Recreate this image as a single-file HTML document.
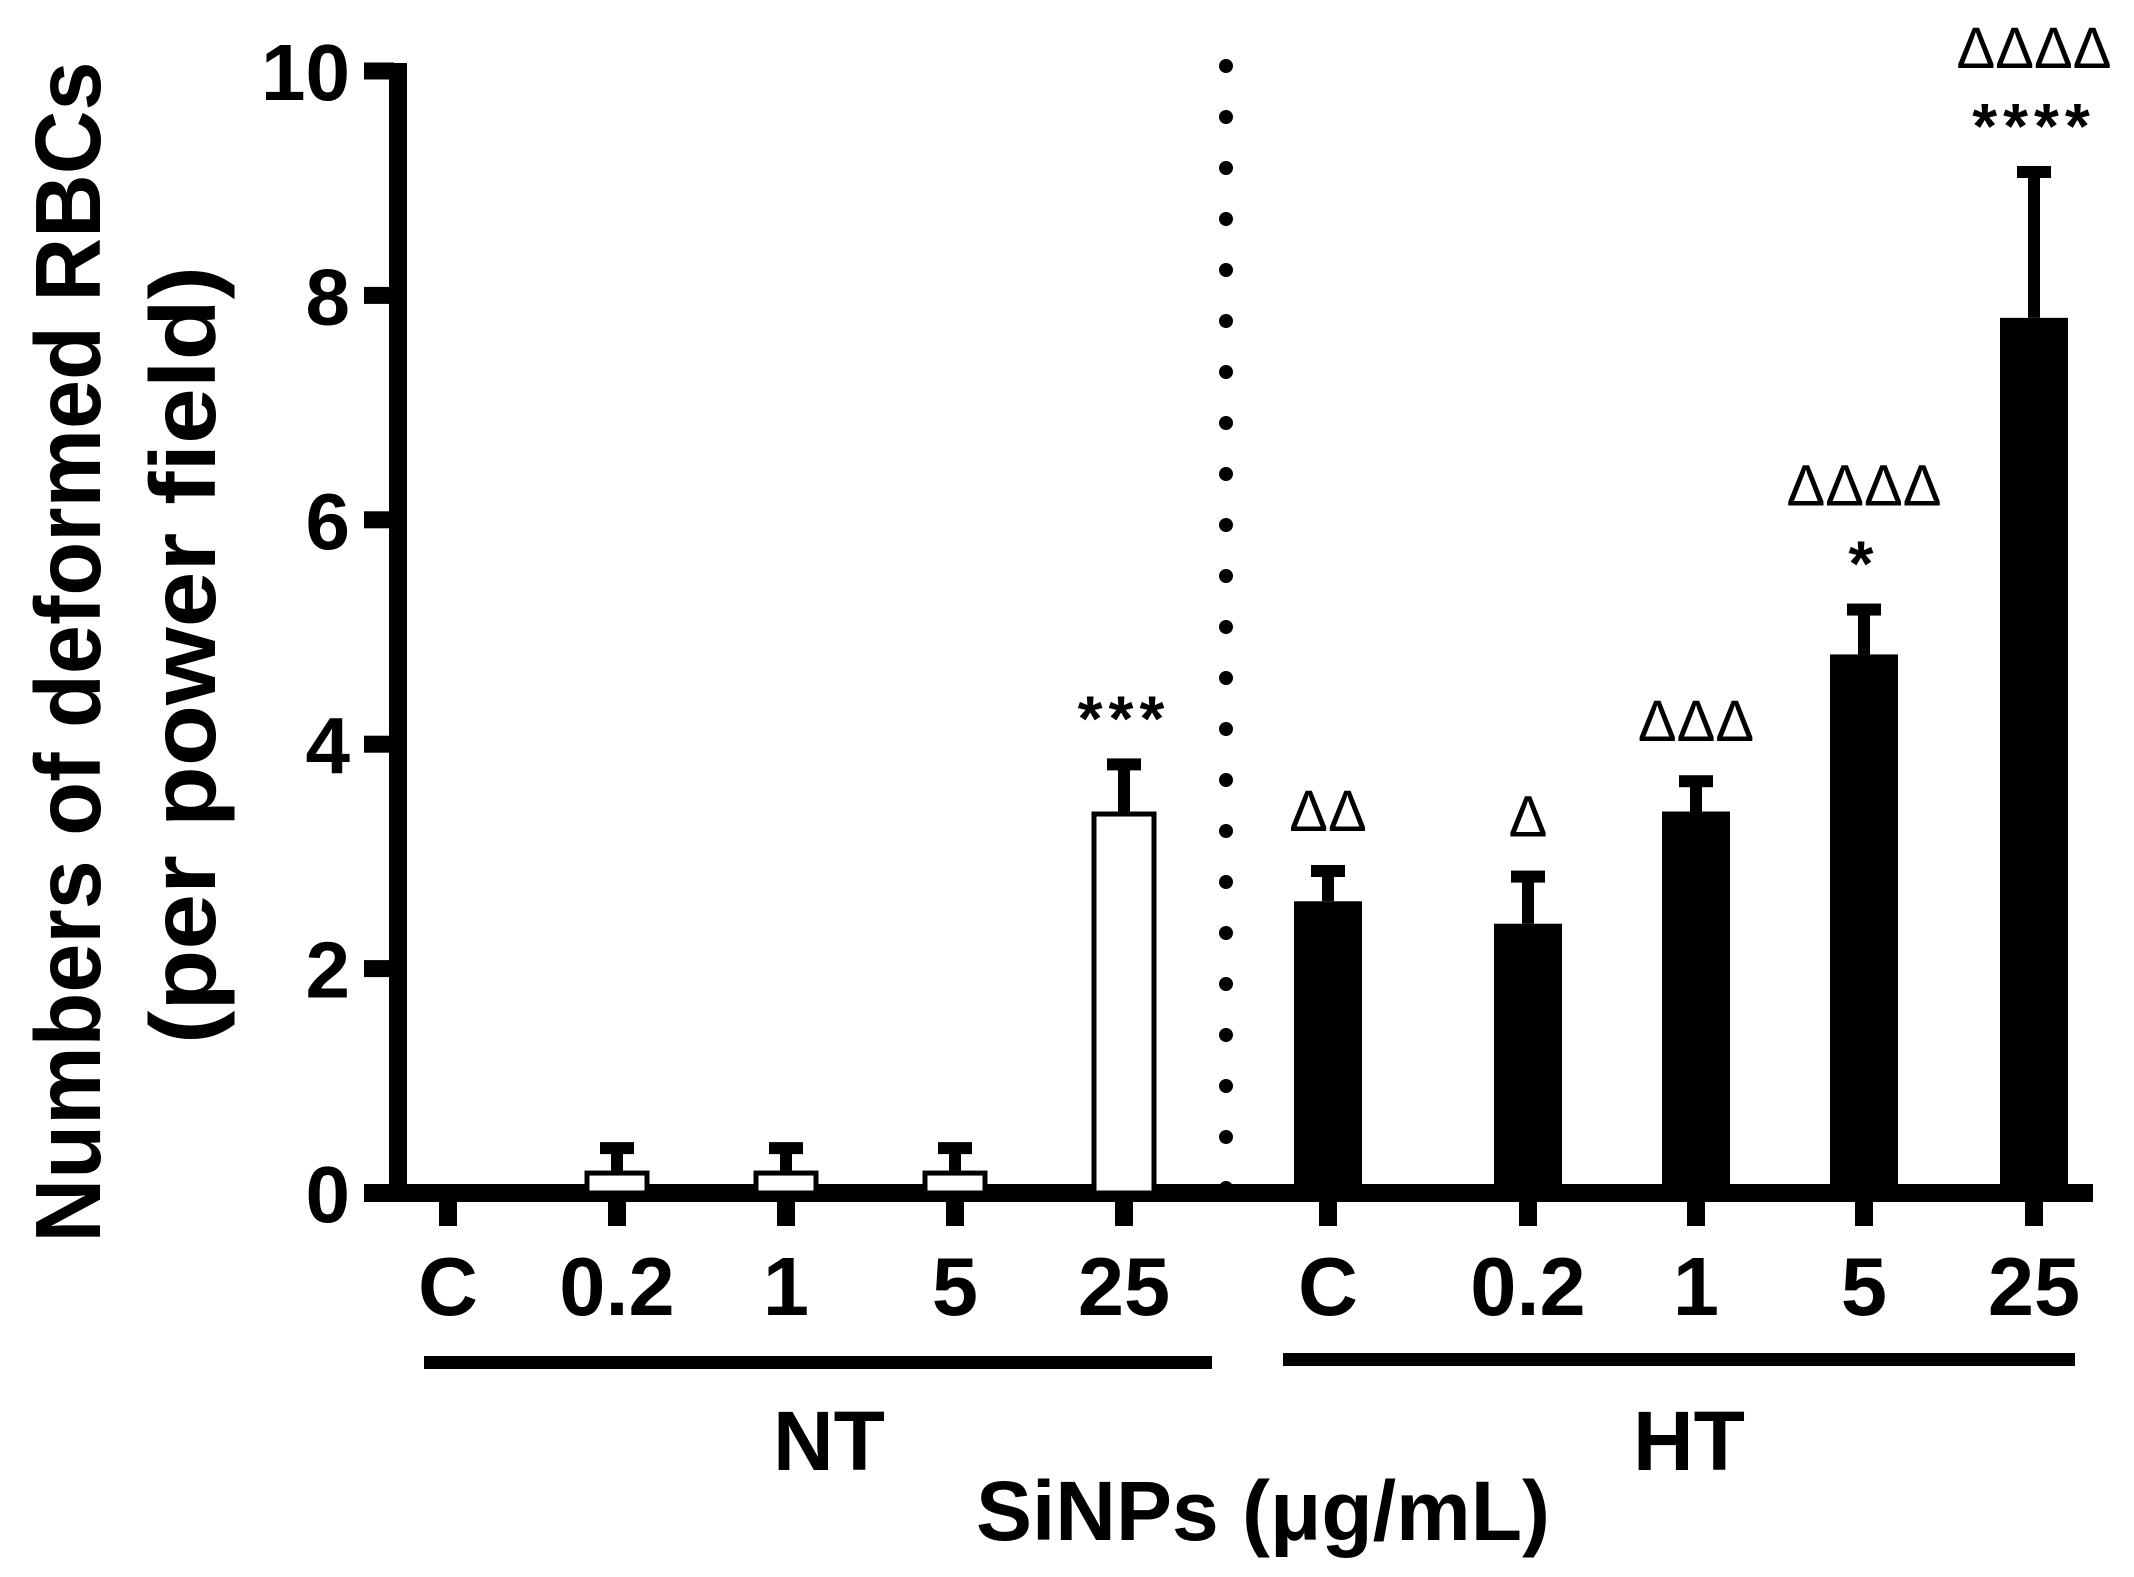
<!DOCTYPE html>
<html><head><meta charset="utf-8"><style>
html,body{margin:0;padding:0;background:#fff}
svg{display:block}
text{font-family:"Liberation Sans",Arial,sans-serif;fill:#000}
</style></head><body>
<svg id="chart" width="2134" height="1577" viewBox="0 0 2134 1577" xmlns="http://www.w3.org/2000/svg">
<g id="axes"></g>
<g id="bars"></g>
<text transform="translate(100,652) rotate(-90)" text-anchor="middle" font-size="93" font-weight="bold" textLength="1181" lengthAdjust="spacingAndGlyphs">Numbers of deformed RBCs</text>
<text transform="translate(215,655) rotate(-90)" text-anchor="middle" font-size="93" font-weight="bold" textLength="778" lengthAdjust="spacingAndGlyphs">(per power field)</text>
<rect x="424" y="1356" width="788" height="13" fill="#000"/>
<rect x="1283" y="1353" width="792" height="13" fill="#000"/>
<text x="829" y="1470" text-anchor="middle" font-size="84" font-weight="bold">NT</text>
<text x="1689" y="1470" text-anchor="middle" font-size="84" font-weight="bold">HT</text>
<text x="1263" y="1540" text-anchor="middle" font-size="84" font-weight="bold">SiNPs (μg/mL)</text>
</svg>
<script>
const categories = ["C","0.2","1","5","25","C","0.2","1","5","25"];
const groups = ["NT","NT","NT","NT","NT","HT","HT","HT","HT","HT"];
const means = [0, 0.2, 0.2, 0.2, 3.4, 2.6, 2.4, 3.4, 4.8, 7.8];
const errors = [0, 0.2, 0.2, 0.2, 0.42, 0.27, 0.42, 0.27, 0.4, 1.3];
const starLabels = ["","","","","***","","","","*","****"];
const deltaLabels = ["","","","","","ΔΔ","Δ","ΔΔΔ","ΔΔΔΔ","ΔΔΔΔ"];
const yTicks = [0,2,4,6,8,10];
const xCenters = [448,617,786,955,1124,1328,1528,1696,1864,2034];

const NS="http://www.w3.org/2000/svg";
const Y0=1193, Y10=71;
function y(v){return Y0-(Y0-Y10)*v/10;}
function mk(tag,attrs,parent){const e=document.createElementNS(NS,tag);for(const k in attrs)e.setAttribute(k,attrs[k]);parent.appendChild(e);return e;}
const ax=document.getElementById('axes'), bg=document.getElementById('bars');

let e=mk('rect',{x:389,y:y(10)-8,width:18,height:Y0-y(10)+17,fill:'#000'},ax);


yTicks.forEach(t=>{
  let tk=mk('rect',{x:364,y:y(t)-8.5,width:30,height:17,fill:'#000'},ax);
  
  
  let lb=mk('text',{x:350,y:y(t)+29,'text-anchor':'end','font-size':80,'font-weight':'bold'},ax);
  lb.textContent=String(t);
  
  
});
e=mk('rect',{x:364,y:Y0-9,width:2093-364,height:18,fill:'#000'},ax);


for(let i=0;i<23;i++){
  let d=mk('circle',{cx:1226,cy:66+i*51,r:7,fill:'#000'},ax);
  
  
}
categories.forEach((c,i)=>{
  const cx=xCenters[i];
  let tk=mk('rect',{x:cx-9,y:Y0,width:18,height:33,fill:'#000'},ax);
  
  
  let lb=mk('text',{x:cx,y:1315,'text-anchor':'middle','font-size':83,'font-weight':'bold'},ax);
  lb.textContent=c;
  
  
  const v=means[i], top=y(v+errors[i]);
  if(v>0){
    let b;
    if(groups[i]==='NT'){
      b=mk('rect',{x:cx-30,y:y(v)+2.5,width:60,height:Y0-y(v)-2.5,fill:'#fff',stroke:'#000','stroke-width':5},bg);
    } else {
      b=mk('rect',{x:cx-34,y:y(v),width:68,height:Y0-y(v),fill:'#000'},bg);
    }
    
    
    let s=mk('rect',{x:cx-6,y:top,width:12,height:y(v)-top,fill:'#000'},bg);
    
    
    let cap=mk('rect',{x:cx-17,y:top-6,width:34,height:12,fill:'#000'},bg);
    
    
  }
  let off=40;
  if(starLabels[i]){
    let st=mk('text',{x:cx,y:top-24,'text-anchor':'middle','font-size':64,'font-weight':'bold','letter-spacing':6},bg);
    st.textContent=starLabels[i];
    
    
    off=104;
  }
  if(deltaLabels[i]){
    let dl=mk('text',{x:cx,y:top-off,'text-anchor':'middle','font-size':58,'font-family':'Liberation Serif, serif'},bg);
    dl.textContent=deltaLabels[i];
    
    
  }
});
</script>
</body></html>
